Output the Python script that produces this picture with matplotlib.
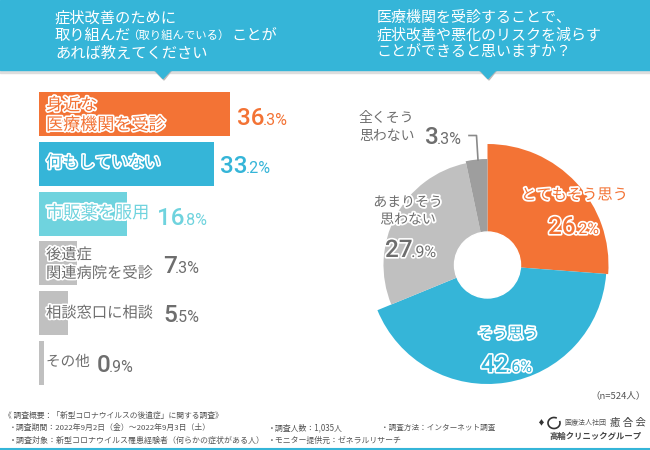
import matplotlib
matplotlib.use("Agg")
import matplotlib.pyplot as plt
import matplotlib.patheffects as pe
from matplotlib.patches import Wedge, Circle, Polygon, Rectangle, Arc

plt.rcParams['font.family'] = ['Noto Sans CJK JP', 'DejaVu Sans']

# --- datos ---
bar_labels = ["身近な\n医療機関を受診", "何もしていない", "市販薬を服用",
              "後遺症\n関連病院を受診", "相談窓口に相談", "その他"]
bar_values = [36.3, 33.2, 16.8, 7.3, 5.5, 0.9]
bar_colors = ["#F37335", "#35B5D8", "#6FD3DE", "#C0C0C0", "#C0C0C0", "#C0C0C0"]

pie_labels = ["とてもそう思う", "そう思う", "あまりそう\n思わない", "全くそう\n思わない"]
pie_values = [26.2, 42.6, 27.9, 3.3]
pie_colors = ["#F37335", "#35B5D8", "#C0C0C0", "#9E9E9E"]
pie_radius = [121, 119, 104, 106]

title_left = ["症状改善のために", "取り組んだ", "あれば教えてください"]
title_left_small = "（取り組んでいる）"
title_left_tail = "ことが"
title_right = ["医療機関を受診することで、", "症状改善や悪化のリスクを減らす", "ことができると思いますか？"]

GRAY = "#6E6E6E"
BLUE = "#35B5D8"
ORANGE = "#F37335"
NUM_FONT = ['Roboto', 'DejaVu Sans']


def pct(x, y, value, color, stroke=None, big=17.5, small=11.5):
    # numero grande + decimales pequeños, sobre la capa en pixeles
    a, b = f"{value:.1f}".split(".")
    eff = [pe.withStroke(linewidth=stroke, foreground="white")] if stroke else None
    t1 = over.text(x, y, a, fontsize=big, color=color, family=NUM_FONT, va="baseline", ha="left",
                   fontweight="medium", path_effects=eff, zorder=6)
    fig.canvas.draw()
    w = t1.get_window_extent().width
    over.text(x + w - 1.5, y, f".{b}%", fontsize=small, color=color, family=NUM_FONT, va="baseline",
              ha="left", path_effects=eff, zorder=6)


fig = plt.figure(figsize=(6.5, 4.5), dpi=100)

# capa de fondo en pixeles
bg = fig.add_axes([0, 0, 1, 1])
bg.set_xlim(0, 650)
bg.set_ylim(450, 0)
bg.axis("off")

# banners
bg.add_patch(Rectangle((0, 70), 650, 2.5, color="#DDDDDD", zorder=1))
bg.add_patch(Rectangle((0, 0), 650, 70, color=BLUE, zorder=2))
for cx in [163, 488]:
    bg.add_patch(Polygon([(cx - 9, 70), (cx + 9, 70), (cx + 1, 80)], color="#BBBBBB", zorder=1))
    bg.add_patch(Polygon([(cx - 8, 70), (cx + 8, 70), (cx, 78.5)], color=BLUE, zorder=2))
bg.plot([0, 650], [449, 449], color=BLUE, lw=1.5, zorder=2)

for ty, left, right in zip([18, 35.5, 53], title_left, title_right):
    bg.text(55, ty, left, fontsize=11, color="white", va="center", ha="left", zorder=3)
    bg.text(376.5, ty, right, fontsize=10.8, color="white", va="center", ha="left", zorder=3)
bg.text(127, 35.5, title_left_small, fontsize=8.2, color="white", va="center", ha="left", zorder=3)
bg.text(231, 35.5, title_left_tail, fontsize=11, color="white", va="center", ha="left", zorder=3)

# --- barras ---
px_per_pct = 5.26
ax = fig.add_axes([39 / 650, 1 - 412.8 / 450, 300 / 650, 348.6 / 450])
ax.set_xlim(0, 300 / px_per_pct)
ax.set_ylim(6, -1)
ax.axis("off")
ypos = list(range(len(bar_values)))
ax.barh(ypos, bar_values, height=0.883, color=bar_colors, zorder=1)

# --- tarta ---
cx, cy = 487.5, 265
pie = fig.add_axes([(cx - 130) / 650, 1 - (cy + 130) / 450, 260 / 650, 260 / 450])
pie.set_xlim(-130, 130)
pie.set_ylim(-130, 130)
pie.set_aspect("equal")
pie.axis("off")

start = 90.0
for val, col, r in zip(pie_values, pie_colors, pie_radius):
    sweep = val * 3.6
    pie.add_patch(Wedge((0, 0), r, start - sweep, start, color=col, lw=0, zorder=1))
    start -= sweep
pie.add_patch(Circle((0, 0), 33, color="white", zorder=2))

# capa de textos
over = fig.add_axes([0, 0, 1, 1], facecolor="none")
over.set_xlim(0, 650)
over.set_ylim(450, 0)
over.axis("off")

# etiquetas de barras
bar_font = [12.3, 11.8, 12.4, 11, 11, 10.5]
bar_label_y = [115, 163, 213, 264, 313, 362]
pct_x = [237, 220, 157, 163, 163, 97]
pct_y = [125, 173, 225, 273, 322, 372]
for i, lab in enumerate(bar_labels):
    col = bar_colors[i] if i < 3 else GRAY
    over.text(46, bar_label_y[i], lab, fontsize=bar_font[i], color=col, va="center", ha="left",
              linespacing=1.12, path_effects=[pe.withStroke(linewidth=2.4, foreground="white")], zorder=5)
    pct(pct_x[i], pct_y[i], bar_values[i], col)

# linea guia del 3,3 %
over.plot([469, 476.5, 478], [135.5, 135.5, 160], color="#8A8A8A", lw=1.2, zorder=5)

# etiquetas de la tarta
w_eff = [pe.withStroke(linewidth=2.6, foreground="white")]
over.text(521, 195, pie_labels[0], fontsize=11, color=ORANGE, ha="left", va="center",
          path_effects=w_eff, zorder=6)
pct(548, 234, pie_values[0], ORANGE, stroke=2.4)
over.text(508, 334, pie_labels[1], fontsize=11, color=BLUE, ha="center", va="center",
          path_effects=w_eff, zorder=6)
pct(481, 372, pie_values[1], BLUE, stroke=2.4)
over.text(408, 211, pie_labels[2], fontsize=10, color=GRAY, ha="center", va="center",
          linespacing=1.3, path_effects=w_eff, zorder=6)
pct(385, 257, pie_values[2], GRAY, stroke=2.4)
over.text(359, 127, pie_labels[3], fontsize=10, color=GRAY, ha="left", va="center", linespacing=1.4, zorder=6)
pct(425, 144, pie_values[3], GRAY)

over.text(646, 396, "（n=524人）", fontsize=6.8, color="#555555", ha="right", va="center")

# --- notas al pie ---
foot = "#555555"
over.text(4, 416, "《 調査概要：「新型コロナウイルスの後遺症」に関する調査》", fontsize=5.6, color=foot, va="center")
over.text(9, 428, "・調査期間：2022年9月2日（金）〜2022年9月3日（土）", fontsize=5.65, color=foot, va="center")
over.text(9, 440, "・調査対象：新型コロナウイルス罹患経験者（何らかの症状がある人）", fontsize=5.75, color=foot, va="center")
over.text(268, 428, "・調査人数：1,035人", fontsize=5.7, color=foot, va="center")
over.text(268, 440, "・モニター提供元：ゼネラルリサーチ", fontsize=5.7, color=foot, va="center")
over.text(381, 428, "・調査方法：インターネット調査", fontsize=5.5, color=foot, va="center")

# logo
over.text(564, 423, "医療法人社団", fontsize=5, color="#555555", va="center")
over.text(610, 423, "癒 合 会", fontsize=7.5, color="#444444", va="center")
over.text(549, 436, "高輪クリニックグループ", fontsize=6, color="#444444", va="center", fontweight="bold")
over.text(541, 423, "♦", fontsize=5, color="#333333", va="center", ha="center")
over.add_patch(Arc((554, 423), 12, 11, theta1=-20, theta2=300, ec="#333333", lw=1.2))

fig.savefig("out.png", dpi=100)
